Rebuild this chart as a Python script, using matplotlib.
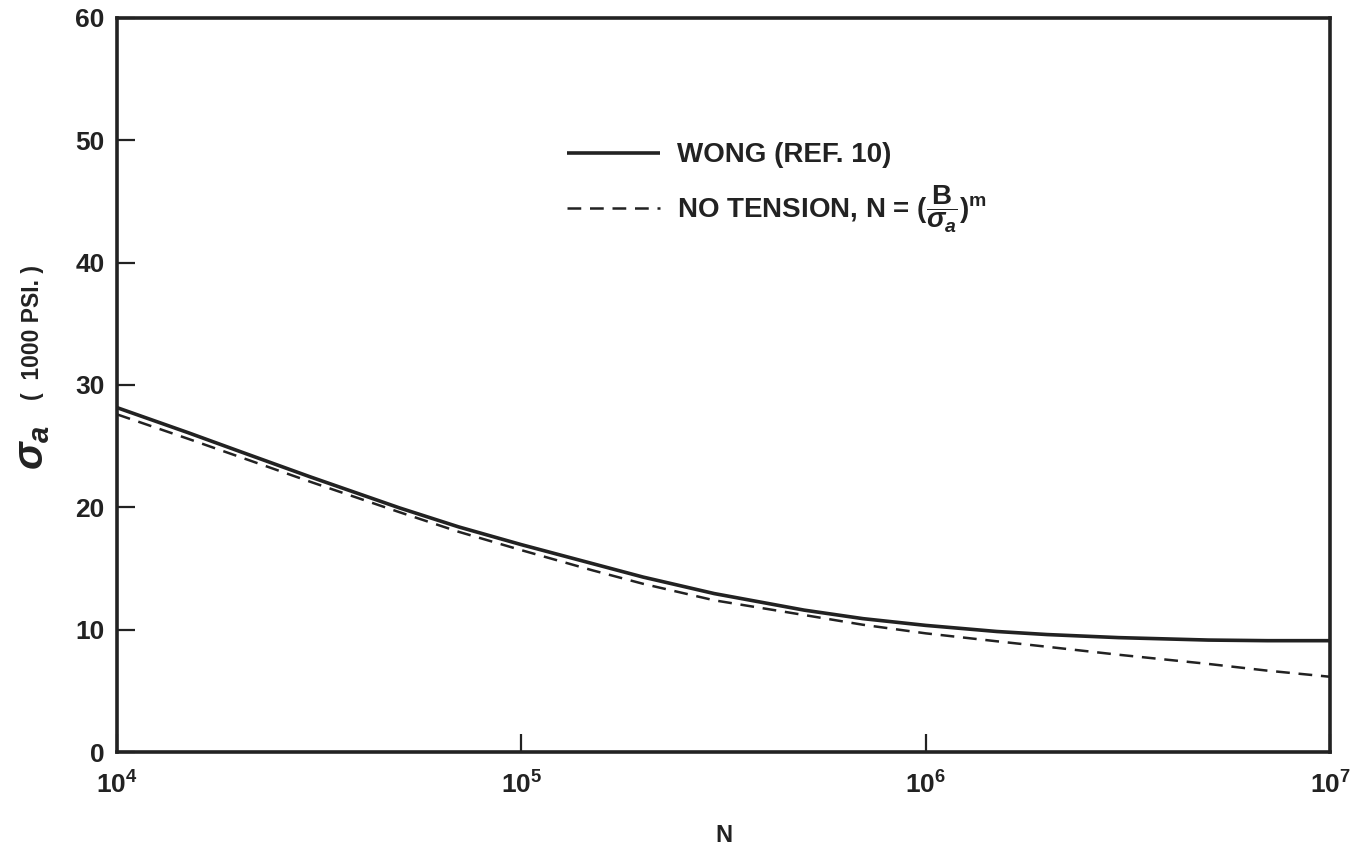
import math
import matplotlib
matplotlib.use("Agg")
import matplotlib.pyplot as plt
from matplotlib.ticker import FixedLocator, FuncFormatter, NullLocator

plt.rcParams["font.family"] = ["Liberation Sans", "DejaVu Sans"]
plt.rcParams["font.weight"] = "bold"
plt.rcParams["mathtext.fontset"] = "custom"
plt.rcParams["mathtext.rm"] = "Liberation Sans:bold"
plt.rcParams["mathtext.bf"] = "Liberation Sans:bold"
plt.rcParams["mathtext.it"] = "Liberation Sans:italic"

# Cycles to failure
cycles = [1e4, 1.5e4, 2e4, 3e4, 5e4, 7e4, 1e5, 1.5e5, 2e5, 3e5, 5e5, 7e5,
          1e6, 1.5e6, 2e6, 3e6, 5e6, 7e6, 1e7]
# Alternating stress, 1000 psi
wong = [28.15, 26.1, 24.6, 22.5, 19.95, 18.4, 16.95, 15.4, 14.3, 12.95,
        11.6, 10.9, 10.35, 9.85, 9.6, 9.35, 9.15, 9.1, 9.1]
no_tension = [27.6, 25.6, 24.15, 22.1, 19.6, 18.0, 16.5, 14.85, 13.75, 12.4,
              11.2, 10.4, 9.7, 9.05, 8.6, 7.95, 7.2, 6.65, 6.15]

x_ticks = [1e4, 1e5, 1e6, 1e7]
y_ticks = [0, 10, 20, 30, 40, 50, 60]

ink = "#222222"

fig = plt.figure(figsize=(13.6, 8.46), dpi=100)
ax = fig.add_axes([117 / 1360, 94 / 846, 1213 / 1360, 734 / 846])

ax.plot(cycles, wong, color=ink, lw=2.6, solid_capstyle="butt",
        solid_joinstyle="round", label="WONG (REF. 10)")
ax.plot(cycles, no_tension, color=ink, lw=1.8, dashes=(5.5, 3.5),
        label=r"NO TENSION, N = $(\dfrac{\mathbf{B}}{\sigma_a})^{\mathbf{m}}$")

ax.set_xscale("log")
ax.set_xlim(1e4, 1e7)
ax.set_ylim(0, 60)
ax.xaxis.set_major_locator(FixedLocator(x_ticks))
ax.xaxis.set_minor_locator(NullLocator())
ax.xaxis.set_major_formatter(FuncFormatter(
    lambda v, p: r"$\mathbf{10^{%d}}$" % round(math.log10(v))))
ax.yaxis.set_major_locator(FixedLocator(y_ticks))

for s in ax.spines.values():
    s.set_linewidth(2.6)
    s.set_color(ink)

ax.tick_params(axis="both", direction="in", length=13, width=1.6,
               colors=ink, labelsize=19, top=False, right=False)
ax.tick_params(axis="x", pad=14)
ax.tick_params(axis="y", pad=9)
for lbl in ax.get_yticklabels():
    lbl.set_fontweight("bold")

ax.set_xlabel("N", fontsize=17, fontweight="bold", color=ink, labelpad=18)

# Vertical axis title: sigma_a followed by units
fig.text(32 / 1360, 1 - 448 / 846, r"$\sigma_a$", rotation=90,
         fontsize=30, color=ink, ha="center", va="center")
fig.text(32 / 1360, 1 - 332 / 846, "(  1000 PSI. )", rotation=90,
         fontsize=16.5, fontweight="bold", color=ink, ha="center", va="center")

leg = ax.legend(loc="upper left", bbox_to_anchor=(0.3505, 0.8645),
                frameon=False, fontsize=20, handlelength=3.35,
                handletextpad=0.6, labelspacing=0.55)
for t in leg.get_texts():
    t.set_color(ink)
    t.set_fontweight("bold")

fig.savefig("out.png", dpi=100, facecolor="white")
